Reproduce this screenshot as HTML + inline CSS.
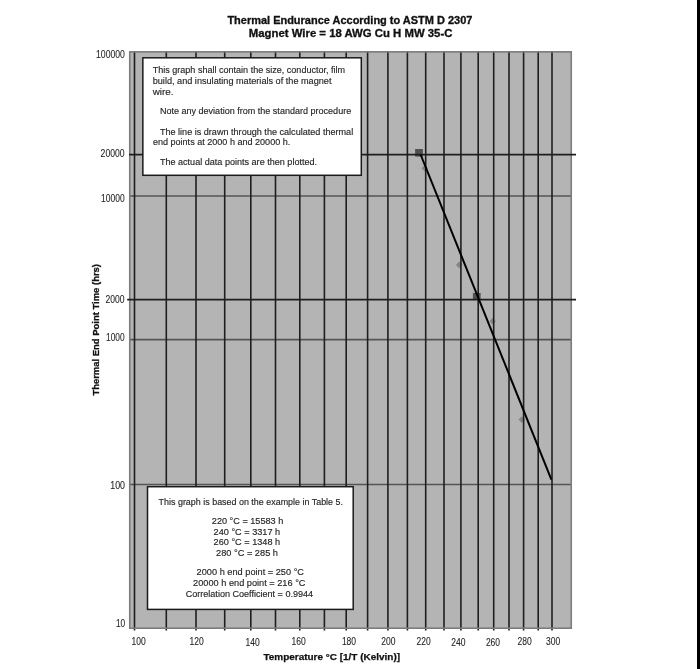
<!DOCTYPE html>
<html><head><meta charset="utf-8"><style>
html,body{margin:0;padding:0;background:#fff;}
body{width:700px;height:669px;overflow:hidden;position:relative;}
svg{display:block;filter:blur(0.3px);}
text{font-family:"Liberation Sans",sans-serif;fill:#262626;stroke:#262626;stroke-width:0.1px;}
.t{font-size:9.9px;stroke-width:0.16px;}
.n{font-size:10.4px;}
.b{font-weight:bold;font-size:10px;fill:#111;stroke:#111;stroke-width:0.3px;}
.bx{font-weight:bold;font-size:9.6px;fill:#111;stroke:#111;stroke-width:0.25px;}
</style></head><body>
<svg width="700" height="669" viewBox="0 0 700 669">
<rect x="0" y="0" width="700" height="669" fill="#fff"/>

<text class="b" x="227.40" y="24.00" textLength="245.00" lengthAdjust="spacingAndGlyphs">Thermal Endurance According to ASTM D 2307</text>
<text class="b" x="248.80" y="36.50" textLength="203.60" lengthAdjust="spacingAndGlyphs">Magnet Wire = 18 AWG Cu H MW 35-C</text>
<rect x="129.0" y="51.0" width="443.0" height="577.9" fill="#b4b4b4"/>
<path d="M424.70 164.90 L428.00 168.20 L424.70 171.50 L421.40 168.20 Z" fill="#858585"/>
<path d="M459.20 261.60 L462.50 264.90 L459.20 268.20 L455.90 264.90 Z" fill="#858585"/>
<path d="M492.60 317.90 L495.90 321.20 L492.60 324.50 L489.30 321.20 Z" fill="#858585"/>
<path d="M521.80 416.30 L525.10 419.60 L521.80 422.90 L518.50 419.60 Z" fill="#858585"/>
<rect x="415.1" y="149.0" width="7.80" height="7.60" fill="#505050"/>
<rect x="472.9" y="292.9" width="7.70" height="6.50" fill="#505050"/>
<line x1="129.0" x2="572.0" y1="196.0" y2="196.0" stroke="#555" stroke-width="1.6"/>
<line x1="129.0" x2="572.0" y1="339.6" y2="339.6" stroke="#555" stroke-width="1.6"/>
<line x1="129.0" x2="572.0" y1="484.5" y2="484.5" stroke="#555" stroke-width="1.6"/>
<line x1="134.50" x2="134.50" y1="51.0" y2="630.5" stroke="#1e1e1e" stroke-width="1.6"/>
<line x1="166.30" x2="166.30" y1="51.0" y2="630.5" stroke="#1e1e1e" stroke-width="1.6"/>
<line x1="196.00" x2="196.00" y1="51.0" y2="630.5" stroke="#1e1e1e" stroke-width="1.6"/>
<line x1="224.70" x2="224.70" y1="51.0" y2="630.5" stroke="#1e1e1e" stroke-width="1.6"/>
<line x1="250.80" x2="250.80" y1="51.0" y2="630.5" stroke="#1e1e1e" stroke-width="1.6"/>
<line x1="275.50" x2="275.50" y1="51.0" y2="630.5" stroke="#1e1e1e" stroke-width="1.6"/>
<line x1="299.80" x2="299.80" y1="51.0" y2="630.5" stroke="#1e1e1e" stroke-width="1.6"/>
<line x1="324.40" x2="324.40" y1="51.0" y2="630.5" stroke="#1e1e1e" stroke-width="1.6"/>
<line x1="346.20" x2="346.20" y1="51.0" y2="630.5" stroke="#1e1e1e" stroke-width="1.6"/>
<line x1="367.60" x2="367.60" y1="51.0" y2="630.5" stroke="#1e1e1e" stroke-width="1.6"/>
<line x1="387.90" x2="387.90" y1="51.0" y2="630.5" stroke="#1e1e1e" stroke-width="1.6"/>
<line x1="407.40" x2="407.40" y1="51.0" y2="630.5" stroke="#1e1e1e" stroke-width="1.6"/>
<line x1="425.70" x2="425.70" y1="51.0" y2="630.5" stroke="#1e1e1e" stroke-width="1.6"/>
<line x1="444.00" x2="444.00" y1="51.0" y2="630.5" stroke="#1e1e1e" stroke-width="1.6"/>
<line x1="460.90" x2="460.90" y1="51.0" y2="630.5" stroke="#1e1e1e" stroke-width="1.6"/>
<line x1="478.20" x2="478.20" y1="51.0" y2="630.5" stroke="#1e1e1e" stroke-width="1.6"/>
<line x1="493.70" x2="493.70" y1="51.0" y2="630.5" stroke="#1e1e1e" stroke-width="1.6"/>
<line x1="509.00" x2="509.00" y1="51.0" y2="630.5" stroke="#1e1e1e" stroke-width="1.6"/>
<line x1="523.60" x2="523.60" y1="51.0" y2="630.5" stroke="#1e1e1e" stroke-width="1.6"/>
<line x1="538.20" x2="538.20" y1="51.0" y2="630.5" stroke="#1e1e1e" stroke-width="1.6"/>
<line x1="552.00" x2="552.00" y1="51.0" y2="630.5" stroke="#1e1e1e" stroke-width="1.6"/>
<rect x="129.75" y="51.9" width="441.5" height="576.3" fill="none" stroke="#7c7c7c" stroke-width="1.6"/>
<line x1="129" x2="576" y1="154.6" y2="154.6" stroke="#1e1e1e" stroke-width="1.7"/>
<line x1="127.2" x2="576" y1="299.6" y2="299.6" stroke="#1e1e1e" stroke-width="1.7"/>
<line x1="420.6" y1="154.5" x2="551.4" y2="479.6" stroke="#000" stroke-width="2"/>
<rect x="142.85" y="57.8" width="218.45" height="117.5" fill="#fff" stroke="#1a1a1a" stroke-width="1.5"/>
<rect x="147.5" y="486.7" width="205.7" height="122.7" fill="#fff" stroke="#1a1a1a" stroke-width="1.5"/>
<text class="t" x="152.70" y="73.00" textLength="192.40" lengthAdjust="spacingAndGlyphs">This graph shall contain the size, conductor, film</text>
<text class="t" x="152.70" y="83.60" textLength="178.80" lengthAdjust="spacingAndGlyphs">build, and insulating materials of the magnet</text>
<text class="t" x="152.70" y="94.50">wire.</text>
<text class="t" x="159.90" y="114.10" textLength="191.30" lengthAdjust="spacingAndGlyphs">Note any deviation from the standard procedure</text>
<text class="t" x="159.90" y="134.60" textLength="193.30" lengthAdjust="spacingAndGlyphs">The line is drawn through the calculated thermal</text>
<text class="t" x="152.90" y="144.80" textLength="137.40" lengthAdjust="spacingAndGlyphs">end points at 2000 h and 20000 h.</text>
<text class="t" x="159.90" y="164.90" textLength="157.20" lengthAdjust="spacingAndGlyphs">The actual data points are then plotted.</text>
<text class="t" x="158.60" y="505.20" textLength="184.40" lengthAdjust="spacingAndGlyphs">This graph is based on the example in Table 5.</text>
<text class="t" x="211.80" y="524.10" textLength="71.50" lengthAdjust="spacingAndGlyphs">220 °C = 15583 h</text>
<text class="t" x="213.60" y="534.60" textLength="66.60" lengthAdjust="spacingAndGlyphs">240 °C = 3317 h</text>
<text class="t" x="213.60" y="545.00" textLength="66.60" lengthAdjust="spacingAndGlyphs">260 °C = 1348 h</text>
<text class="t" x="216.00" y="555.70" textLength="62.00" lengthAdjust="spacingAndGlyphs">280 °C = 285 h</text>
<text class="t" x="196.60" y="574.80" textLength="107.40" lengthAdjust="spacingAndGlyphs">2000 h end point = 250 °C</text>
<text class="t" x="193.10" y="585.60" textLength="112.40" lengthAdjust="spacingAndGlyphs">20000 h end point = 216 °C</text>
<text class="t" x="185.70" y="597.10" textLength="127.40" lengthAdjust="spacingAndGlyphs">Correlation Coefficient = 0.9944</text>
<text class="n" x="96.00" y="57.80" textLength="28.90" lengthAdjust="spacingAndGlyphs">100000</text>
<text class="n" x="100.60" y="156.50" textLength="24.00" lengthAdjust="spacingAndGlyphs">20000</text>
<text class="n" x="101.10" y="202.20" textLength="23.50" lengthAdjust="spacingAndGlyphs">10000</text>
<text class="n" x="105.60" y="303.20" textLength="19.00" lengthAdjust="spacingAndGlyphs">2000</text>
<text class="n" x="106.00" y="341.30" textLength="18.60" lengthAdjust="spacingAndGlyphs">1000</text>
<text class="n" x="110.25" y="489.10" textLength="14.75" lengthAdjust="spacingAndGlyphs">100</text>
<text class="n" x="116.00" y="626.50" textLength="9.25" lengthAdjust="spacingAndGlyphs">10</text>
<text class="n" x="138.70" y="644.70" textLength="14.20" lengthAdjust="spacingAndGlyphs" text-anchor="middle">100</text>
<text class="n" x="196.70" y="644.70" textLength="14.20" lengthAdjust="spacingAndGlyphs" text-anchor="middle">120</text>
<text class="n" x="252.70" y="645.50" textLength="14.20" lengthAdjust="spacingAndGlyphs" text-anchor="middle">140</text>
<text class="n" x="298.70" y="644.80" textLength="14.20" lengthAdjust="spacingAndGlyphs" text-anchor="middle">160</text>
<text class="n" x="349.00" y="644.80" textLength="14.20" lengthAdjust="spacingAndGlyphs" text-anchor="middle">180</text>
<text class="n" x="388.30" y="644.80" textLength="14.20" lengthAdjust="spacingAndGlyphs" text-anchor="middle">200</text>
<text class="n" x="423.60" y="644.80" textLength="14.20" lengthAdjust="spacingAndGlyphs" text-anchor="middle">220</text>
<text class="n" x="458.30" y="645.50" textLength="14.20" lengthAdjust="spacingAndGlyphs" text-anchor="middle">240</text>
<text class="n" x="493.00" y="645.50" textLength="14.20" lengthAdjust="spacingAndGlyphs" text-anchor="middle">260</text>
<text class="n" x="524.60" y="644.80" textLength="14.20" lengthAdjust="spacingAndGlyphs" text-anchor="middle">280</text>
<text class="n" x="553.10" y="644.80" textLength="14.20" lengthAdjust="spacingAndGlyphs" text-anchor="middle">300</text>
<text class="bx" x="263.40" y="660.20" textLength="136.70" lengthAdjust="spacingAndGlyphs">Temperature °C [1/T (Kelvin)]</text>
<text class="b" style="font-size:9.4px" x="0" y="0" textLength="131.6" lengthAdjust="spacingAndGlyphs" transform="translate(98.6,395.6) rotate(-90)">Thermal End Point Time (hrs)</text>
</svg>
<div style="position:absolute;left:697px;top:0;width:3px;height:669px;background:#000;"></div>
</body></html>
